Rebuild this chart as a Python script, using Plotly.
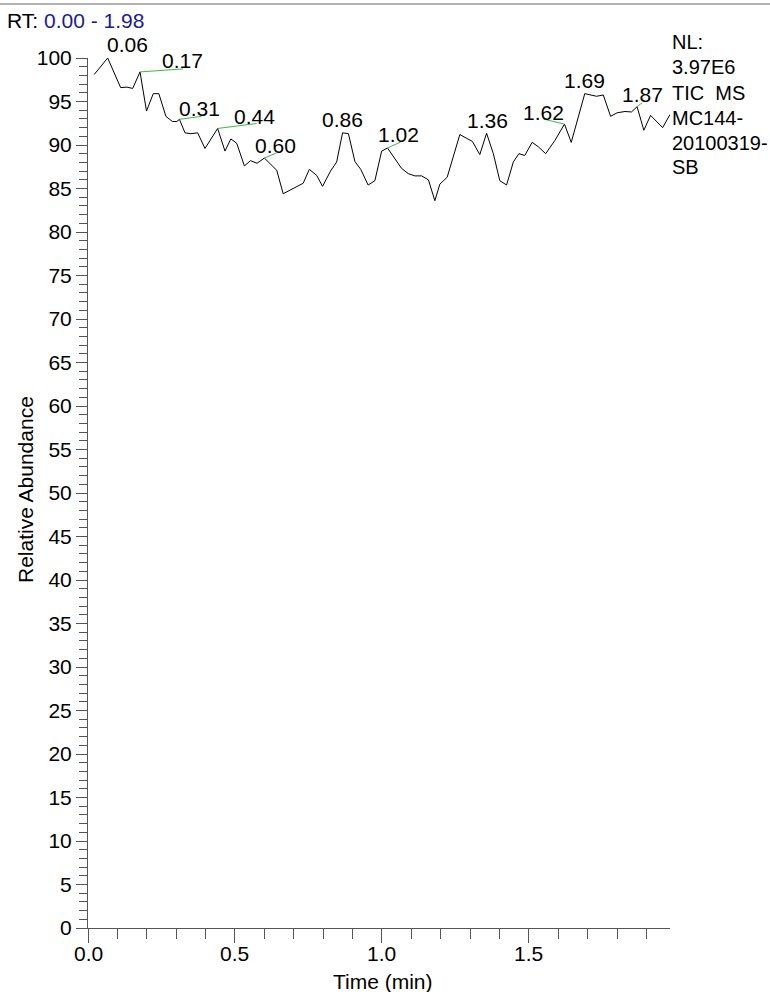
import plotly.graph_objects as go

# ---------------- data ----------------
rt = [0.021, 0.041, 0.067, 0.111, 0.133, 0.152, 0.177, 0.199, 0.222, 0.241,
      0.265, 0.287, 0.302, 0.311, 0.330, 0.350, 0.373, 0.398, 0.441, 0.466,
      0.486, 0.506, 0.532, 0.553, 0.575, 0.600, 0.642, 0.664, 0.704, 0.732,
      0.753, 0.778, 0.798, 0.825, 0.846, 0.866, 0.886, 0.908, 0.928, 0.953,
      0.976, 0.999, 1.019, 1.044, 1.067, 1.090, 1.112, 1.135, 1.158, 1.180,
      1.197, 1.222, 1.265, 1.308, 1.333, 1.356, 1.379, 1.401, 1.424, 1.447,
      1.466, 1.486, 1.511, 1.532, 1.557, 1.588, 1.621, 1.644, 1.690, 1.730,
      1.753, 1.778, 1.800, 1.827, 1.849, 1.868, 1.891, 1.914, 1.955, 1.980]
abundance = [98.1, 98.9, 100.0, 96.6, 96.65, 96.5, 98.4, 93.9, 95.9, 95.9,
             93.3, 92.7, 92.7, 92.95, 91.4, 91.3, 91.4, 89.6, 91.9, 89.3,
             90.7, 90.2, 87.6, 88.2, 87.9, 88.5, 87.1, 84.4, 85.1, 85.6,
             87.2, 86.5, 85.25, 87.0, 88.05, 91.4, 91.3, 88.1, 87.2, 85.4,
             85.9, 89.3, 89.65, 88.4, 87.3, 86.7, 86.45, 86.45, 86.0, 83.6,
             85.5, 86.3, 91.2, 90.4, 88.9, 91.35, 89.0, 85.9, 85.4, 88.05,
             89.0, 88.8, 90.3, 89.8, 89.0, 90.5, 92.4, 90.3, 95.9, 95.6,
             95.75, 93.3, 93.7, 93.85, 93.8, 94.4, 91.7, 93.4, 92.0, 93.5]

peak_labels = ["0.06", "0.17", "0.31", "0.44", "0.60", "0.86", "1.02", "1.36", "1.62", "1.69", "1.87"]
peak_rt = [0.067, 0.177, 0.311, 0.441, 0.600, 0.866, 1.019, 1.356, 1.621, 1.690, 1.868]

x_ticks = [0.0, 0.5, 1.0, 1.5]
x_tick_labels = ["0.0", "0.5", "1.0", "1.5"]
y_ticks = list(range(0, 101, 5))

rt_range_text = "0.00 - 1.98"
info_lines = ["NL:", "3.97E6", "TIC\u00a0 MS", "MC144-", "20100319-", "SB"]

# ---------------- layout / style ----------------
W, H = 770, 992
ML, MR, MT, MB = 88, 100, 58, 64
PW, PH = W - ML - MR, H - MT - MB
FONT = "Liberation Sans, Arial, sans-serif"
FS = 21
FS_INFO = 20
AX = "#555555"
GREEN = "#3db843"

# label offsets in pixels (x right, y up)
label_dx = [20, 42, 20, 37, 11, 0, 11, 1, -21, 0, 5]
label_dy = [14, 11, 11, 12, 13, 13, 14, 13, 12, 13, 12]
leader_dx = [21, 43, 22, 39, 12, None, 13, None, -21, None, 5]
leader_dy = [5, 3, 3, 5, 5, None, 6, None, 5, None, 4]
info_y_px = [42, 67, 93, 118, 143, 167]

fig = go.Figure()
fig.add_trace(go.Scatter(x=rt, y=abundance, mode="lines",
                         line=dict(color="black", width=1),
                         hoverinfo="skip", showlegend=False, cliponaxis=False))

annotations = []
shapes = []
for lab, prt, dx, dy, ldx, ldy in zip(peak_labels, peak_rt, label_dx, label_dy, leader_dx, leader_dy):
    i = min(range(len(rt)), key=lambda k: abs(rt[k] - prt))
    px, py = rt[i], abundance[i]
    annotations.append(dict(x=px, y=py, xref="x", yref="y", text=lab, showarrow=False,
                            xanchor="center", yanchor="middle", xshift=dx, yshift=dy,
                            font=dict(family=FONT, size=FS, color="black")))
    if ldx is not None:
        shapes.append(dict(type="line", xref="x", yref="y", xsizemode="pixel", ysizemode="pixel",
                           xanchor=px, yanchor=py, x0=0, y0=0, x1=ldx, y1=ldy,
                           line=dict(color=GREEN, width=1)))

# x tick labels (placed as text just below the tick marks)
for v, t in zip(x_ticks, x_tick_labels):
    annotations.append(dict(x=v, y=0, xref="x", yref="paper", text=t, showarrow=False,
                            xanchor="center", yanchor="middle", yshift=-25, borderpad=0,
                            font=dict(family=FONT, size=FS, color="black")))

# RT header
annotations.append(dict(xref="paper", yref="paper", x=0, y=1, xshift=-(ML - 5), yshift=MT - 20,
                        xanchor="left", yanchor="middle", showarrow=False,
                        text="RT: <span style='color:#1a1a99'>" + rt_range_text + "</span>",
                        font=dict(family=FONT, size=FS, color="black")))
# info block
for line, ypx in zip(info_lines, info_y_px):
    annotations.append(dict(xref="paper", yref="paper", x=1, y=1, xshift=0, yshift=MT - ypx,
                            xanchor="left", yanchor="middle", showarrow=False, text=line,
                            font=dict(family=FONT, size=FS_INFO, color="black")))
# axis titles
annotations.append(dict(xref="paper", yref="paper", x=0, y=0.5, xshift=-(ML - 25), yshift=3,
                        xanchor="center", yanchor="middle", showarrow=False, textangle=-90,
                        text="Relative Abundance", font=dict(family=FONT, size=FS, color="black")))
annotations.append(dict(xref="paper", yref="paper", x=0.5, y=0, xshift=4, yshift=-53, borderpad=0,
                        xanchor="center", yanchor="middle", showarrow=False,
                        text="Time (min)", font=dict(family=FONT, size=FS, color="black")))

# top rule
shapes.append(dict(type="line", xref="paper", yref="paper",
                   x0=-ML / PW, x1=(W - ML) / PW, y0=1 + (MT - 4) / PH, y1=1 + (MT - 4) / PH,
                   line=dict(color="#666666", width=1)))

fig.update_layout(
    width=W, height=H,
    margin=dict(l=ML, r=MR, t=MT, b=MB, pad=0),
    paper_bgcolor="white", plot_bgcolor="white",
    font=dict(family=FONT, size=FS, color="black"),
    showlegend=False,
    annotations=annotations, shapes=shapes,
    xaxis=dict(range=[0, 1.98], tickvals=x_ticks, showticklabels=False,
               ticks="outside", ticklen=14, tickwidth=1, tickcolor=AX,
               showline=True, linecolor=AX, linewidth=1, showgrid=False, zeroline=False,
               minor=dict(dtick=0.1, tick0=0, ticks="outside", ticklen=10, tickwidth=1, tickcolor=AX)),
    yaxis=dict(range=[0, 100], tickvals=y_ticks, ticktext=[str(v) for v in y_ticks],
               ticks="outside", ticklen=11, tickwidth=1, tickcolor=AX,
               showline=True, linecolor=AX, linewidth=1, showgrid=False, zeroline=False,
               minor=dict(dtick=1, tick0=0, ticks="outside", ticklen=8, tickwidth=1, tickcolor=AX),
               tickfont=dict(family=FONT, size=FS, color="black")),
)

fig.write_html("out.html")
